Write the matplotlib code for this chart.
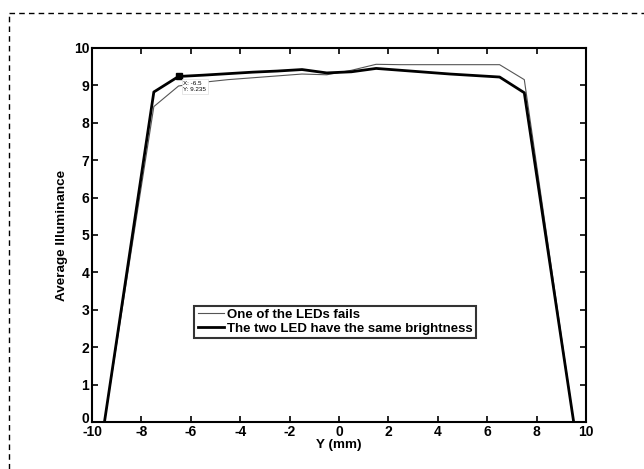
import matplotlib
matplotlib.use("Agg")
import matplotlib.pyplot as plt
from matplotlib.lines import Line2D
from matplotlib.transforms import ScaledTranslation

plt.rcParams['font.family'] = ['Liberation Sans', 'DejaVu Sans']
plt.rcParams['font.weight'] = 'bold'
plt.rcParams['axes.unicode_minus'] = False

y_mm = [-9.5, -7.5, -6.5, -5.5, -4.5, -3.5, -2.5, -1.5, -0.5, 0.5, 1.5, 2.5, 3.5, 4.5, 5.5, 6.5, 7.5, 9.5]
one_fails = [0, 8.43, 8.98, 9.08, 9.15, 9.20, 9.25, 9.30, 9.28, 9.40, 9.56, 9.55, 9.55, 9.55, 9.55, 9.55, 9.15, 0]
same_bright = [0, 8.82, 9.235, 9.27, 9.31, 9.35, 9.38, 9.42, 9.33, 9.36, 9.45, 9.40, 9.35, 9.30, 9.26, 9.22, 8.80, 0]
xticks = [-10, -8, -6, -4, -2, 0, 2, 4, 6, 8, 10]
yticks = [0, 1, 2, 3, 4, 5, 6, 7, 8, 9, 10]
tip_x, tip_y = -6.5, 9.235

fig = plt.figure(figsize=(6.44, 4.69), dpi=100)
ax = fig.add_axes([0.143, 0.100, 0.767, 0.798])

ax.plot(y_mm, one_fails, color='#555555', lw=0.8, label='One of the LEDs fails')
ax.plot(y_mm, same_bright, color='black', lw=2.0, label='The two LED have the same brightness')
ax.plot([tip_x], [tip_y], marker='s', color='black', ms=5, ls='none')
ax.annotate(f"X: {tip_x}\nY: {tip_y}", xy=(tip_x, tip_y), xytext=(tip_x + 0.2, tip_y - 0.13),
            fontsize=4.5, fontweight='normal', va='top', ha='left',
            bbox=dict(boxstyle='square,pad=0.3', fc='white', ec='#dddddd', lw=0.5))

ax.set_xlim(-10, 10)
ax.set_ylim(0, 10)
ax.set_xticks(xticks)
ax.set_yticks(yticks)
ax.tick_params(direction='in', length=4, width=1.2, top=True, right=True, labelsize=10, pad=2)
for lab in ax.get_xticklabels() + ax.get_yticklabels():
    lab.set_fontweight('bold')
for s in ax.spines.values():
    s.set_linewidth(1.5)
# lift the y "0" label slightly so it sits just above the x "-10" label
ylab0 = ax.get_yticklabels()[0]
ylab0.set_transform(ylab0.get_transform() + ScaledTranslation(0, 3/72, fig.dpi_scale_trans))

ax.set_xlabel('Y (mm)', fontsize=9.7, fontweight='bold', labelpad=0)
ax.set_ylabel('Average Illuminance', fontsize=9.7, fontweight='bold', labelpad=4)

leg = ax.legend(loc='lower left', bbox_to_anchor=(0.207, 0.225), fontsize=9.5, frameon=True,
                fancybox=False, edgecolor='black', handlelength=2.0, handletextpad=0.2,
                borderpad=0.25, labelspacing=0.1, borderaxespad=0)
leg.get_frame().set_linewidth(1.5)
for t in leg.get_texts():
    t.set_fontweight('bold')

# dashed border (top and left)
fig.add_artist(Line2D([9/644, 1.0], [1 - 13/469, 1 - 13/469], transform=fig.transFigure,
                      color='black', lw=1, ls=(0, (4, 3))))
fig.add_artist(Line2D([9/644, 9/644], [0, 1 - 13/469], transform=fig.transFigure,
                      color='black', lw=1, ls=(0, (4, 3))))

fig.savefig('out.png', dpi=100)
